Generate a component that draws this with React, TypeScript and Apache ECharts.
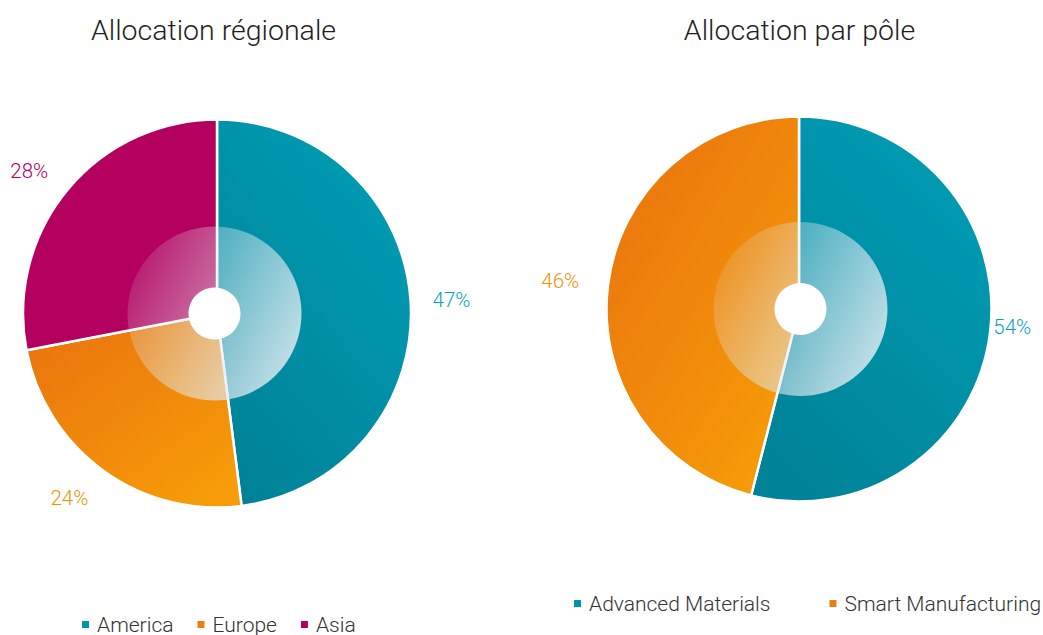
import React, { useEffect, useRef } from "react";
import * as echarts from "echarts";

// ---- data ----
const regionNames = ["America", "Europe", "Asia"];
const regionValues = [47.4, 23.7, 27.7];
const poleNames = ["Advanced Materials", "Smart Manufacturing"];
const poleValues = [54, 46];
const titles = ["Allocation régionale", "Allocation par pôle"];

// ---- styles ----
const TEAL_LABEL = "#0AA3BF";
const ORANGE_LABEL = "#F39200";
const MAGENTA = "#B4005E";

const tealGrad = () =>
  new echarts.graphic.LinearGradient(0.8, 0, 0.2, 1, [
    { offset: 0, color: "#009DB4" },
    { offset: 1, color: "#008298" },
  ]);
const orangeGrad = () =>
  new echarts.graphic.LinearGradient(0, 0, 0.8, 1, [
    { offset: 0, color: "#E9700F" },
    { offset: 1, color: "#F69C08" },
  ]);
const overlayGrad = () =>
  new echarts.graphic.LinearGradient(0, 0.25, 1, 0.75, [
    { offset: 0, color: "rgba(225,236,242,0.1)" },
    { offset: 1, color: "rgba(225,236,242,0.88)" },
  ]);

const regionFills = [tealGrad, orangeGrad, () => MAGENTA];
const regionLabelColors = [TEAL_LABEL, ORANGE_LABEL, MAGENTA];
const regionLegendColors = ["#0094AB", "#EE7D10", MAGENTA];
const regionLabelLen = [17, 34, 30];
const regionLabelLen2 = [0, -10, -9];

const poleFills = [tealGrad, orangeGrad];
const poleLabelColors = [TEAL_LABEL, ORANGE_LABEL];
const poleLegendColors = ["#0094AB", "#EE7D10"];
const poleLabelLen = [-48, 31];
const poleLabelLen2 = [46, -7];

const FONT = "Roboto, 'Noto Sans', sans-serif";
const squareIcon = "path://M0,0L9,0L9,9L0,9Z";

function mainPie(
  center: [number, number],
  r: number,
  names: string[],
  values: number[],
  fills: (() => any)[],
  labelColors: string[],
  lens: number[],
  lens2: number[]
) {
  return {
    type: "pie",
    center,
    radius: [0, r],
    startAngle: 90,
    clockwise: true,
    silent: true,
    avoidLabelOverlap: false,
    itemStyle: { borderColor: "#ffffff", borderWidth: 2.5 },
    label: {
      show: true,
      position: "outside",
      formatter: (p: any) => Math.round(p.value) + "%",
      fontSize: 20.5,
      fontWeight: 300,
      fontFamily: FONT,
      distanceToLabelLine: 5,
    },
    labelLine: { show: false },
    emphasis: { disabled: true },
    data: names.map((n, i) => ({
      name: n,
      value: values[i],
      itemStyle: { color: fills[i]() },
      label: { color: labelColors[i] },
      labelLine: { show: false, length: lens[i], length2: lens2[i] },
    })),
  };
}

function overlay(center: [number, number], r: number, fill: any, name: string) {
  return {
    type: "pie",
    center,
    radius: [0, r],
    silent: true,
    label: { show: false },
    labelLine: { show: false },
    emphasis: { disabled: true },
    itemStyle: { borderWidth: 0 },
    data: [{ name, value: 1, itemStyle: { color: fill } }],
  };
}

export default function App() {
  const ref = useRef<HTMLDivElement>(null);
  useEffect(() => {
    if (!ref.current) return;
    const chart = echarts.init(ref.current, undefined, { renderer: "svg" });
    const titleStyle = { fontSize: 28.5, fontWeight: 300, color: "#1e1e1e", fontFamily: FONT };
    const legendText = { fontSize: 21, fontWeight: 300, color: "#333333", fontFamily: FONT };
    const option: any = {
      animation: false,
      backgroundColor: "#ffffff",
      textStyle: { fontFamily: FONT },
      title: [
        { text: titles[0], left: 208.5, top: 11, textAlign: "center", textStyle: titleStyle },
        { text: titles[1], left: 794.5, top: 11, textAlign: "center", textStyle: titleStyle },
      ],
      legend: [
        {
          left: 75,
          top: 609,
          width: 500,
          selectedMode: false,
          icon: squareIcon,
          itemWidth: 13,
          itemHeight: 9,
          itemGap: 22,
          textStyle: legendText,
          data: regionNames.map((n, i) => ({ name: n, itemStyle: { color: regionLegendColors[i] } })),
        },
        {
          left: 567,
          top: 588,
          width: 700,
          selectedMode: false,
          icon: squareIcon,
          itemWidth: 13,
          itemHeight: 9,
          itemGap: 57,
          textStyle: legendText,
          data: poleNames.map((n, i) => ({ name: n, itemStyle: { color: poleLegendColors[i] } })),
        },
      ],
      series: [
        mainPie([217, 313.5], 194, regionNames, regionValues, regionFills, regionLabelColors, regionLabelLen, regionLabelLen2),
        overlay([214.5, 313.5], 87, overlayGrad(), "overlayL"),
        overlay([214.5, 313.5], 26, "#ffffff", "holeL"),
        mainPie([799, 309], 192.5, poleNames, poleValues, poleFills, poleLabelColors, poleLabelLen, poleLabelLen2),
        overlay([800.5, 309], 87, overlayGrad(), "overlayR"),
        overlay([800.5, 309], 26, "#ffffff", "holeR"),
      ],
    };
    chart.setOption(option);
    return () => chart.dispose();
  }, []);
  return (
    <div
      ref={ref}
      style={{ position: "absolute", left: 0, top: 0, width: 1043, height: 635 }}
    />
  );
}
